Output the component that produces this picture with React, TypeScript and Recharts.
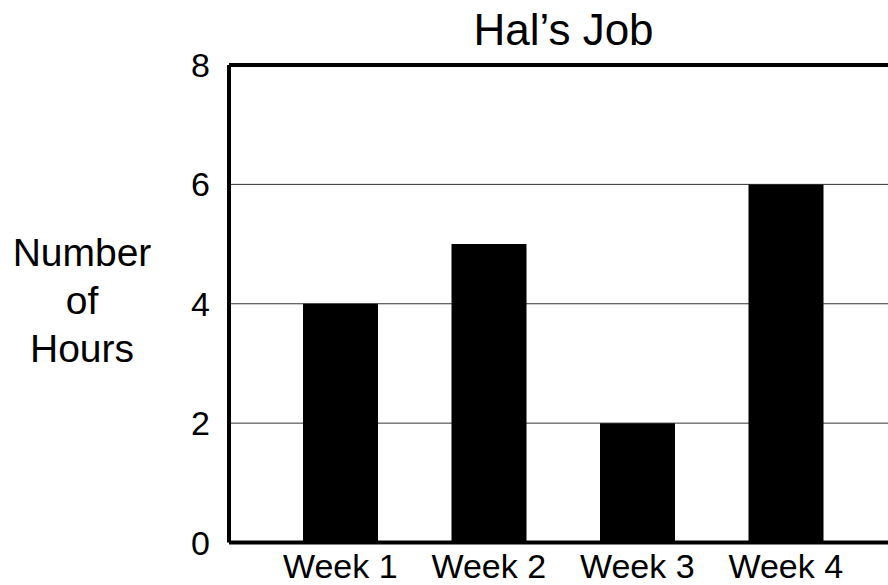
import { BarChart, Bar, XAxis, YAxis, CartesianGrid, ReferenceLine, Label } from 'recharts'

const weeks = ['Week 1', 'Week 2', 'Week 3', 'Week 4']
const hours = [4, 5, 2, 6]
const yTicks = [0, 2, 4, 6, 8]

const data = weeks.map((week, i) => ({ week, hours: hours[i] }))

const FONT = '"Liberation Sans", Arial, Helvetica, sans-serif'

function YTitle(props: any) {
    const vb = props.viewBox || { x: 0, y: 0, width: 0, height: 0 }
    const cx = vb.x + 82
    const cy = vb.y + vb.height / 2
    return (
        <text x={cx} y={cy} textAnchor="middle" fontFamily={FONT} fontSize={39} fill="#000">
            <tspan x={cx} dy={-38}>Number</tspan>
            <tspan x={cx} dy={48}>of</tspan>
            <tspan x={cx} dy={48}>Hours</tspan>
        </text>
    )
}

export default function App() {
    return (
        <div style={{ position: 'absolute', left: 0, top: 0, width: 888, height: 585, overflow: 'hidden' }}>
            <BarChart
                width={908}
                height={585}
                data={data}
                margin={{ top: 65, right: 10, bottom: 2.5, left: 0 }}
            >
                <CartesianGrid vertical={false} stroke="#333" strokeWidth={1} />
                <XAxis
                    dataKey="week"
                    height={40}
                    padding={{ left: 37, right: 38 }}
                    axisLine={{ stroke: '#000', strokeWidth: 4 }}
                    tickLine={false}
                    tickSize={0}
                    tickMargin={11}
                    tick={{ fill: '#000', fontSize: 34, fontFamily: FONT }}
                    interval={0}
                />
                <YAxis
                    width={229}
                    domain={[0, 8]}
                    ticks={yTicks}
                    axisLine={{ stroke: '#000', strokeWidth: 4 }}
                    tickLine={false}
                    tickSize={0}
                    tickMargin={19}
                    tick={{ fill: '#000', fontSize: 34, fontFamily: FONT }}
                >
                    <Label content={YTitle} />
                </YAxis>
                <ReferenceLine y={8} stroke="#000" strokeWidth={4}>
                    <Label
                        value="Hal’s Job"
                        position="top"
                        offset={20}
                        fill="#000"
                        fontSize={44}
                        fontFamily={FONT}
                    />
                </ReferenceLine>
                <Bar dataKey="hours" fill="#000" barSize={75} isAnimationActive={false} />
            </BarChart>
        </div>
    )
}
